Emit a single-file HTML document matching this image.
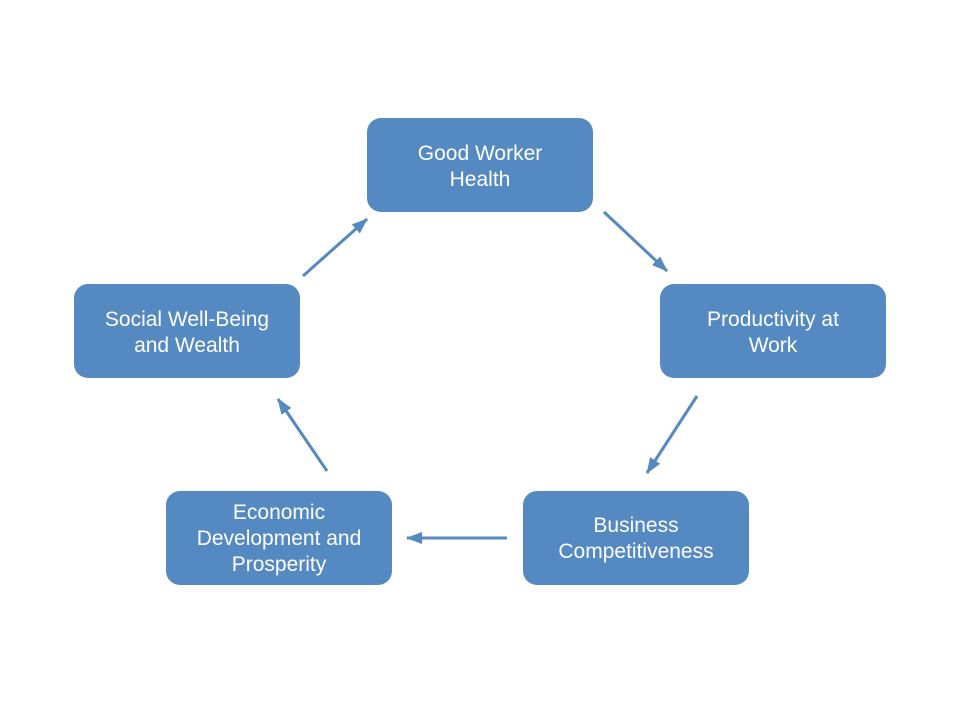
<!DOCTYPE html>
<html><head><meta charset="utf-8"><style>
html,body{margin:0;padding:0;background:#fff;}
svg{display:block}
text{font-family:"Liberation Sans",sans-serif;font-size:21px;fill:#fff;}
</style></head><body>
<svg width="960" height="720" viewBox="0 0 960 720">
<defs>
<marker id="a" markerWidth="16" markerHeight="12" refX="15" refY="6" orient="auto" markerUnits="userSpaceOnUse" viewBox="0 0 16 12">
<path d="M0,0 L16,6 L0,12 z" fill="#5589c2"/>
</marker>
</defs>
<g fill="#5589c2">
<rect x="367" y="118" width="226" height="94" rx="14"/>
<rect x="660" y="284" width="226" height="94" rx="14"/>
<rect x="523" y="491" width="226" height="94" rx="14"/>
<rect x="166" y="491" width="226" height="94" rx="14"/>
<rect x="74" y="284" width="226" height="94" rx="14"/>
</g>
<g stroke="#5589c2" stroke-width="3" fill="none">
<line x1="604" y1="212" x2="667" y2="271" marker-end="url(#a)"/>
<line x1="697" y1="396" x2="647" y2="473" marker-end="url(#a)"/>
<line x1="507" y1="538" x2="407" y2="538" marker-end="url(#a)"/>
<line x1="327" y1="471" x2="278" y2="399" marker-end="url(#a)"/>
<line x1="303" y1="276" x2="367" y2="219" marker-end="url(#a)"/>
</g>
<g text-anchor="middle">
<text x="480" y="160">Good Worker</text>
<text x="480" y="186">Health</text>
<text x="773" y="326">Productivity at</text>
<text x="773" y="352">Work</text>
<text x="636" y="532">Business</text>
<text x="636" y="558">Competitiveness</text>
<text x="279" y="519">Economic</text>
<text x="279" y="545">Development and</text>
<text x="279" y="571">Prosperity</text>
<text x="187" y="326">Social Well-Being</text>
<text x="187" y="352">and Wealth</text>
</g>
</svg>
</body></html>
